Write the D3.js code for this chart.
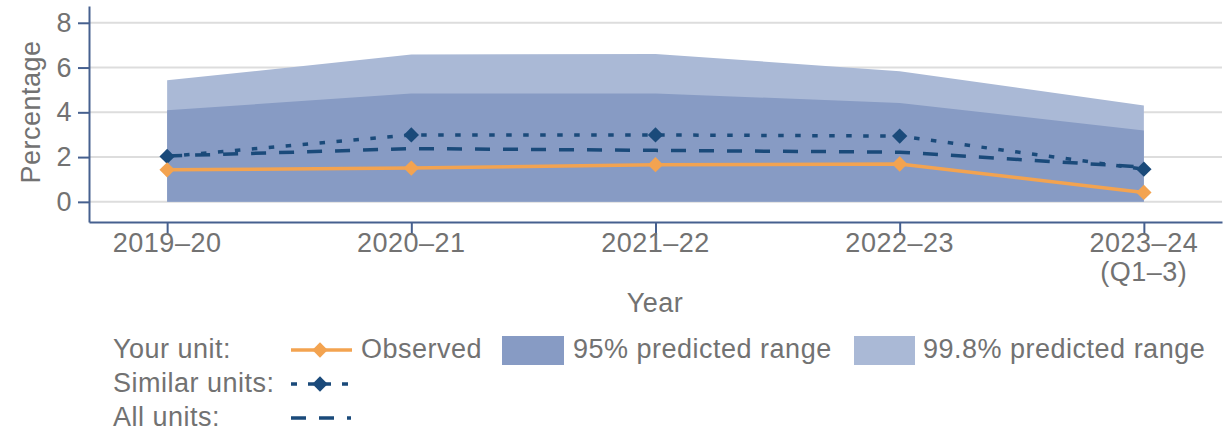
<!DOCTYPE html>
<html>
<head>
<meta charset="utf-8">
<script src="https://cdn.jsdelivr.net/npm/d3@7"></script>
<style>
	body { margin: 0; background: #fff; }
	svg text { font-family: "Liberation Sans", Arial, sans-serif; fill: #727272; letter-spacing: 0.5px; }
</style>
</head>
<body>
<svg id="chart" width="1225" height="433"></svg>
<script>
// DATA
let years = ['2019–20', '2020–21', '2021–22', '2022–23', '2023–24 (Q1–3)'];
let observed = [1.43, 1.51, 1.66, 1.69, 0.42];
let similarUnits = [2.03, 2.99, 2.99, 2.94, 1.46];
let allUnits = [2.05, 2.38, 2.30, 2.22, 1.55];
let upper95 = [4.09, 4.84, 4.84, 4.42, 3.19];
let upper998 = [5.43, 6.58, 6.61, 5.84, 4.31];
let yTicks = [0, 2, 4, 6, 8];

let navy = '#1a4a7a';
let orange = '#f3a350';
let col95 = '#879bc4';
let col998 = '#aab9d6';
let axisCol = '#46608f';
let fs = '27px';

let svg = d3.select('#chart');

let x = d3.scalePoint()
	.domain(years)
	.range([89, 1222])
	.padding(0.32);

let y = d3.scaleLinear()
	.domain([-0.9, 8.75])
	.range([222, 6]);

// grid
svg.append('g')
	.selectAll('line')
	.data(yTicks)
	.enter()
	.append('line')
	.attr('x1', 89)
	.attr('x2', 1222)
	.attr('y1', d => y(d))
	.attr('y2', d => y(d))
	.attr('stroke', '#dddddd')
	.attr('stroke-width', 2);

// predicted ranges
let area = vals => d3.area()
	.x((d, i) => x(years[i]))
	.y0(y(0))
	.y1((d, i) => y(vals[i]));

svg.append('path')
	.attr('d', area(upper998)(years))
	.attr('fill', col998);

svg.append('path')
	.attr('d', area(upper95)(years))
	.attr('fill', col95);

let line = vals => d3.line()
	.x((d, i) => x(years[i]))
	.y((d, i) => y(vals[i]));

let diamond = d3.symbol().type(d3.symbolDiamond2 || d3.symbolDiamond).size(150);

// all units (dashed)
svg.append('path')
	.attr('d', line(allUnits)(years))
	.attr('fill', 'none')
	.attr('stroke', navy)
	.attr('stroke-width', 3.5)
	.attr('stroke-dasharray', '15,13');

// similar units (dotted + diamonds)
svg.append('path')
	.attr('d', line(similarUnits)(years))
	.attr('fill', 'none')
	.attr('stroke', navy)
	.attr('stroke-width', 3.5)
	.attr('stroke-dasharray', '5.5,11.5');

svg.append('g')
	.selectAll('path')
	.data(similarUnits)
	.enter()
	.append('path')
	.attr('d', diamond)
	.attr('transform', (d, i) => 'translate(' + x(years[i]) + ',' + y(d) + ')')
	.attr('fill', navy);

// observed
svg.append('path')
	.attr('d', line(observed)(years))
	.attr('fill', 'none')
	.attr('stroke', orange)
	.attr('stroke-width', 3.5);

svg.append('g')
	.selectAll('path')
	.data(observed)
	.enter()
	.append('path')
	.attr('d', diamond)
	.attr('transform', (d, i) => 'translate(' + x(years[i]) + ',' + y(d) + ')')
	.attr('fill', orange);

// axes
let yAxis = svg.append('g')
	.attr('transform', 'translate(89,0)')
	.call(d3.axisLeft(y).tickValues(yTicks).tickSize(11).tickSizeOuter(0).tickPadding(6));

let xAxis = svg.append('g')
	.attr('transform', 'translate(0,222)')
	.call(d3.axisBottom(x).tickSize(13).tickSizeOuter(0).tickFormat(''));

[yAxis, xAxis].forEach(g => {
	g.selectAll('path, line').attr('stroke', axisCol).attr('stroke-width', 2);
	g.selectAll('text').attr('font-size', fs).attr('fill', '#727272').attr('font-family', null);
});

svg.append('g')
	.selectAll('text')
	.data(years)
	.enter()
	.append('text')
	.attr('x', d => x(d))
	.attr('y', 252)
	.attr('text-anchor', 'middle')
	.attr('font-size', fs)
	.each(function(d) {
		let parts = d.split(' ');
		let t = d3.select(this);
		parts.forEach((p, k) => {
			t.append('tspan').attr('x', x(d)).attr('dy', k ? 29 : 0).text(p);
		});
	});

svg.append('text')
	.attr('x', 655)
	.attr('y', 312)
	.attr('text-anchor', 'middle')
	.attr('font-size', fs)
	.text('Year');

svg.append('text')
	.attr('transform', 'translate(39.5,112) rotate(-90)')
	.attr('text-anchor', 'middle')
	.attr('font-size', fs)
	.text('Percentage');

// legend
let lg = svg.append('g').attr('font-size', fs);
let rows = ['Your unit:', 'Similar units:', 'All units:'];
rows.forEach((r, i) => {
	lg.append('text').attr('x', 113).attr('y', 358 + i * 34).text(r);
});

lg.append('line').attr('x1', 291).attr('x2', 352).attr('y1', 350).attr('y2', 350)
	.attr('stroke', orange).attr('stroke-width', 3.5);
lg.append('path').attr('d', diamond).attr('transform', 'translate(320,350)').attr('fill', orange);
lg.append('text').attr('x', 361).attr('y', 358).text('Observed');

lg.append('rect').attr('x', 502).attr('y', 336).attr('width', 62).attr('height', 29).attr('fill', col95);
lg.append('text').attr('x', 573).attr('y', 358).text('95% predicted range');

lg.append('rect').attr('x', 854).attr('y', 336).attr('width', 61).attr('height', 29).attr('fill', col998);
lg.append('text').attr('x', 923).attr('y', 358).text('99.8% predicted range');

lg.append('line').attr('x1', 291).attr('x2', 350).attr('y1', 384).attr('y2', 384)
	.attr('stroke', navy).attr('stroke-width', 3.5).attr('stroke-dasharray', '6,11');
lg.append('path').attr('d', diamond).attr('transform', 'translate(320,384)').attr('fill', navy);

lg.append('line').attr('x1', 291).attr('x2', 351).attr('y1', 418).attr('y2', 418)
	.attr('stroke', navy).attr('stroke-width', 3.5).attr('stroke-dasharray', '15,13');
</script>
</body>
</html>
